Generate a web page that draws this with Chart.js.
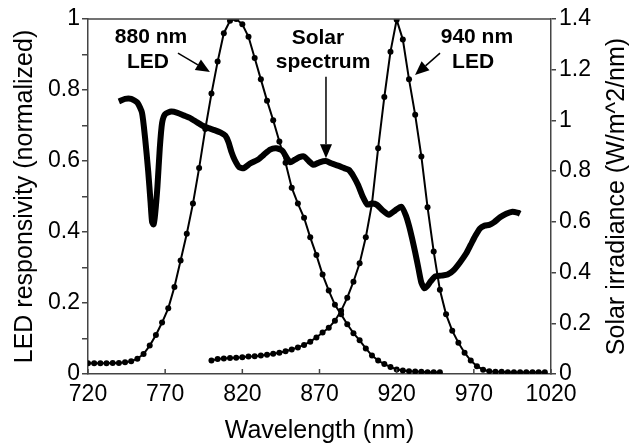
<!DOCTYPE html>
<html>
<head>
<meta charset="utf-8">
<script src="https://cdn.jsdelivr.net/npm/chart.js@4.4.1/dist/chart.umd.min.js"></script>
<style>
  html, body { margin: 0; padding: 0; background: #fff; }
  #wrap { width: 632px; height: 446px; }
</style>
</head>
<body>
<div id="wrap"><canvas id="chart" width="632" height="446"></canvas></div>
<script>
/* ---------- data ---------- */

// 880 nm LED responsivity (normalized, left axis)
const led880Nm = [720, 724, 728, 732, 736, 740, 744, 748, 752, 756, 760, 764, 768, 772, 776, 780,
    784, 788, 792, 796, 800, 804, 808, 812, 816, 820, 824, 828, 832, 836, 840, 844, 848, 852, 856,
    860, 864, 868, 872, 876, 880, 884, 888, 892, 896, 900, 904, 908, 912, 916, 920, 924, 928, 932,
    936, 940, 944, 948];
const led880Val = [0.030, 0.030, 0.030, 0.030, 0.031, 0.031, 0.033, 0.036, 0.043, 0.056, 0.080,
    0.110, 0.145, 0.185, 0.245, 0.320, 0.395, 0.480, 0.580, 0.690, 0.790, 0.880, 0.960, 0.995,
    1.000, 0.985, 0.950, 0.890, 0.830, 0.770, 0.715, 0.655, 0.595, 0.525, 0.480, 0.440, 0.385,
    0.335, 0.280, 0.235, 0.195, 0.168, 0.140, 0.115, 0.095, 0.072, 0.052, 0.038, 0.028, 0.020,
    0.013, 0.010, 0.008, 0.007, 0.006, 0.005, 0.005, 0.005];

// 940 nm LED responsivity (normalized, left axis)
const led940Nm = [800, 804, 808, 812, 816, 820, 824, 828, 832, 836, 840, 844, 848, 852, 856, 860,
    864, 868, 872, 876, 880, 884, 888, 892, 896, 900, 904, 908, 912, 916, 920, 924, 928, 932, 936,
    940, 944, 948, 952, 956, 960, 964, 968, 972, 976, 980, 984, 988, 992, 996, 1000, 1004, 1008,
    1012, 1016];
const led940Val = [0.038, 0.042, 0.044, 0.045, 0.046, 0.047, 0.049, 0.050, 0.052, 0.054, 0.057,
    0.060, 0.064, 0.069, 0.075, 0.082, 0.091, 0.103, 0.117, 0.130, 0.150, 0.178, 0.215, 0.260,
    0.312, 0.385, 0.480, 0.636, 0.780, 0.908, 0.998, 0.942, 0.830, 0.730, 0.613, 0.470, 0.345,
    0.237, 0.168, 0.122, 0.088, 0.060, 0.038, 0.022, 0.012, 0.008, 0.006, 0.006, 0.005, 0.005,
    0.005, 0.005, 0.005, 0.005, 0.005];

// solar irradiance (W/m^2/nm, right axis)
const solarNm = [740, 744, 748, 752, 755, 757, 759, 760.5, 761.5, 762.5, 763.5, 765, 766.5, 768,
    770, 774, 778, 782, 786, 790, 794, 798, 802, 806, 809, 811, 813, 815, 818, 821, 825, 830, 834,
    838, 842, 846, 849, 851, 854, 857, 860, 863, 866, 870, 874, 878, 882, 886, 889, 892, 895, 898,
    901, 904, 907, 911, 915, 919, 923, 926, 928, 930, 932, 934, 936, 938, 940, 942, 945, 949, 953,
    957, 961, 965, 968, 971, 974, 977, 980, 983, 987, 991, 995, 999, 1000];
const solarVal = [1.075, 1.085, 1.085, 1.070, 1.030, 0.930, 0.800, 0.680, 0.600, 0.590, 0.630,
    0.740, 0.890, 0.990, 1.025, 1.035, 1.030, 1.020, 1.010, 0.995, 0.980, 0.970, 0.962, 0.952,
    0.940, 0.915, 0.875, 0.845, 0.815, 0.812, 0.830, 0.845, 0.865, 0.885, 0.890, 0.880, 0.850,
    0.835, 0.845, 0.855, 0.858, 0.840, 0.825, 0.835, 0.840, 0.830, 0.822, 0.812, 0.805, 0.780,
    0.745, 0.700, 0.668, 0.672, 0.668, 0.645, 0.628, 0.645, 0.660, 0.625, 0.585, 0.535, 0.480,
    0.420, 0.360, 0.338, 0.348, 0.365, 0.385, 0.388, 0.392, 0.410, 0.440, 0.475, 0.510, 0.545,
    0.574, 0.585, 0.588, 0.598, 0.618, 0.632, 0.640, 0.635, 0.632];

// axis ticks
const xTicks = [720, 770, 820, 870, 920, 970, 1020];

/* ---------- labels & arrows (data coords) ---------- */
const notes = [
    { text: "880 nm", x: 760.8, y: 0.949 },
    { text: "LED", x: 758.9, y: 0.879 },
    { text: "Solar", x: 869, y: 0.946 },
    { text: "spectrum", x: 872.3, y: 0.879 },
    { text: "940 nm", x: 972, y: 0.949 },
    { text: "LED", x: 969.5, y: 0.879 }
];
const arrows = [
    { x1: 778.3, y1: 0.904, x2: 799, y2: 0.851 },
    { x1: 874.2, y1: 0.837, x2: 874.2, y2: 0.608 },
    { x1: 948.1, y1: 0.904, x2: 931.9, y2: 0.842 }
];

const FONT = "'Liberation Sans', Arial, sans-serif";
const AXIS_COLOR = "#444";

function pairs(xs, ys) {
    return xs.map((x, i) => ({ x: x, y: ys[i] }));
}

function everyOther(value) {
    const r = Math.round(value * 10);
    if (r % 2 !== 0) return "";
    return String(r / 10);
}

function drawArrow(ctx, x1, y1, x2, y2) {
    const ang = Math.atan2(y2 - y1, x2 - x1);
    const len = 14, half = 6;
    const bx = x2 - len * Math.cos(ang), by = y2 - len * Math.sin(ang);
    ctx.beginPath();
    ctx.moveTo(x1, y1);
    ctx.lineTo(bx, by);
    ctx.stroke();
    ctx.beginPath();
    ctx.moveTo(x2, y2);
    ctx.lineTo(bx + half * Math.sin(ang), by - half * Math.cos(ang));
    ctx.lineTo(bx - half * Math.sin(ang), by + half * Math.cos(ang));
    ctx.closePath();
    ctx.fill();
}

/* frame, inward x ticks, right title, annotations */
const extras = {
    id: "extras",
    afterDraw(chart) {
        const ctx = chart.ctx;
        const a = chart.chartArea;
        const xs = chart.scales.x, ys = chart.scales.y;
        ctx.save();
        ctx.strokeStyle = AXIS_COLOR;
        ctx.lineWidth = 1.5;
        ctx.beginPath();
        ctx.moveTo(a.left, a.top);
        ctx.lineTo(a.right, a.top);
        ctx.stroke();
        xTicks.forEach(t => {
            const px = xs.getPixelForValue(t);
            ctx.beginPath();
            ctx.moveTo(px, a.bottom);
            ctx.lineTo(px, a.bottom - 5);
            ctx.stroke();
        });

        // right axis title, reading bottom to top
        ctx.fillStyle = "#000";
        ctx.font = "25px " + FONT;
        ctx.textAlign = "center";
        ctx.textBaseline = "middle";
        ctx.translate(617, (a.top + a.bottom) / 2);
        ctx.rotate(-Math.PI / 2);
        ctx.fillText("Solar irradiance (W/m^2/nm)", 0, 0);
        ctx.restore();

        ctx.save();
        ctx.fillStyle = "#000";
        ctx.strokeStyle = "#000";
        ctx.lineWidth = 1.5;
        ctx.font = "bold 21px " + FONT;
        ctx.textAlign = "center";
        ctx.textBaseline = "middle";
        notes.forEach(n => {
            ctx.fillText(n.text, xs.getPixelForValue(n.x), ys.getPixelForValue(n.y));
        });
        arrows.forEach(r => {
            drawArrow(ctx, xs.getPixelForValue(r.x1), ys.getPixelForValue(r.y1),
                xs.getPixelForValue(r.x2), ys.getPixelForValue(r.y2));
        });
        ctx.restore();
    }
};

new Chart(document.getElementById("chart"), {
    type: "line",
    data: {
        datasets: [{
            label: "880 nm LED",
            data: pairs(led880Nm, led880Val),
            yAxisID: "y",
            borderColor: "#000",
            backgroundColor: "#000",
            borderWidth: 2,
            pointRadius: 3,
            pointBorderWidth: 0,
            tension: 0
        }, {
            label: "940 nm LED",
            data: pairs(led940Nm, led940Val),
            yAxisID: "y",
            borderColor: "#000",
            backgroundColor: "#000",
            borderWidth: 2,
            pointRadius: 3,
            pointBorderWidth: 0,
            tension: 0
        }, {
            label: "Solar spectrum",
            data: pairs(solarNm, solarVal),
            yAxisID: "y2",
            borderColor: "#000",
            borderWidth: 6,
            pointRadius: 0,
            tension: 0.2
        }]
    },
    options: {
        responsive: false,
        animation: false,
        layout: { padding: { top: 19, left: 0, right: 0, bottom: 0 } },
        plugins: {
            legend: { display: false },
            tooltip: { enabled: false }
        },
        scales: {
            x: {
                type: "linear",
                min: 720,
                max: 1020,
                afterBuildTicks: s => { s.ticks = xTicks.map(v => ({ value: v })); },
                afterFit: s => { s.height = 72; },
                ticks: {
                    callback: v => String(v),
                    color: "#000", font: { family: FONT, size: 23 }, padding: 7, maxRotation: 0
                },
                grid: { drawOnChartArea: false, drawTicks: false },
                border: { color: AXIS_COLOR, width: 1.5 },
                title: {
                    display: true, text: "Wavelength (nm)", color: "#000",
                    font: { family: FONT, size: 25 }, padding: { top: 0, bottom: 0 }
                }
            },
            y: {
                position: "left",
                min: 0,
                max: 1,
                afterFit: s => { s.width = 88; },
                ticks: { stepSize: 0.1, callback: everyOther, color: "#000", font: { family: FONT, size: 23 }, padding: 2 },
                grid: { drawOnChartArea: false, tickLength: 6, color: AXIS_COLOR, lineWidth: 1.5 },
                border: { color: AXIS_COLOR, width: 1.5 },
                title: {
                    display: true, text: "LED responsivity (normalized)", color: "#000",
                    font: { family: FONT, size: 25 }, padding: { top: 10, bottom: 0 }
                }
            },
            y2: {
                position: "right",
                min: 0,
                max: 1.4,
                afterFit: s => { s.width = 81; },
                ticks: { stepSize: 0.1, callback: everyOther, color: "#000", font: { family: FONT, size: 23 }, padding: 3 },
                grid: { drawOnChartArea: false, tickLength: 5, color: AXIS_COLOR, lineWidth: 1.5 },
                border: { color: AXIS_COLOR, width: 1.5 }
            }
        }
    },
    plugins: [extras]
});
</script>
</body>
</html>
